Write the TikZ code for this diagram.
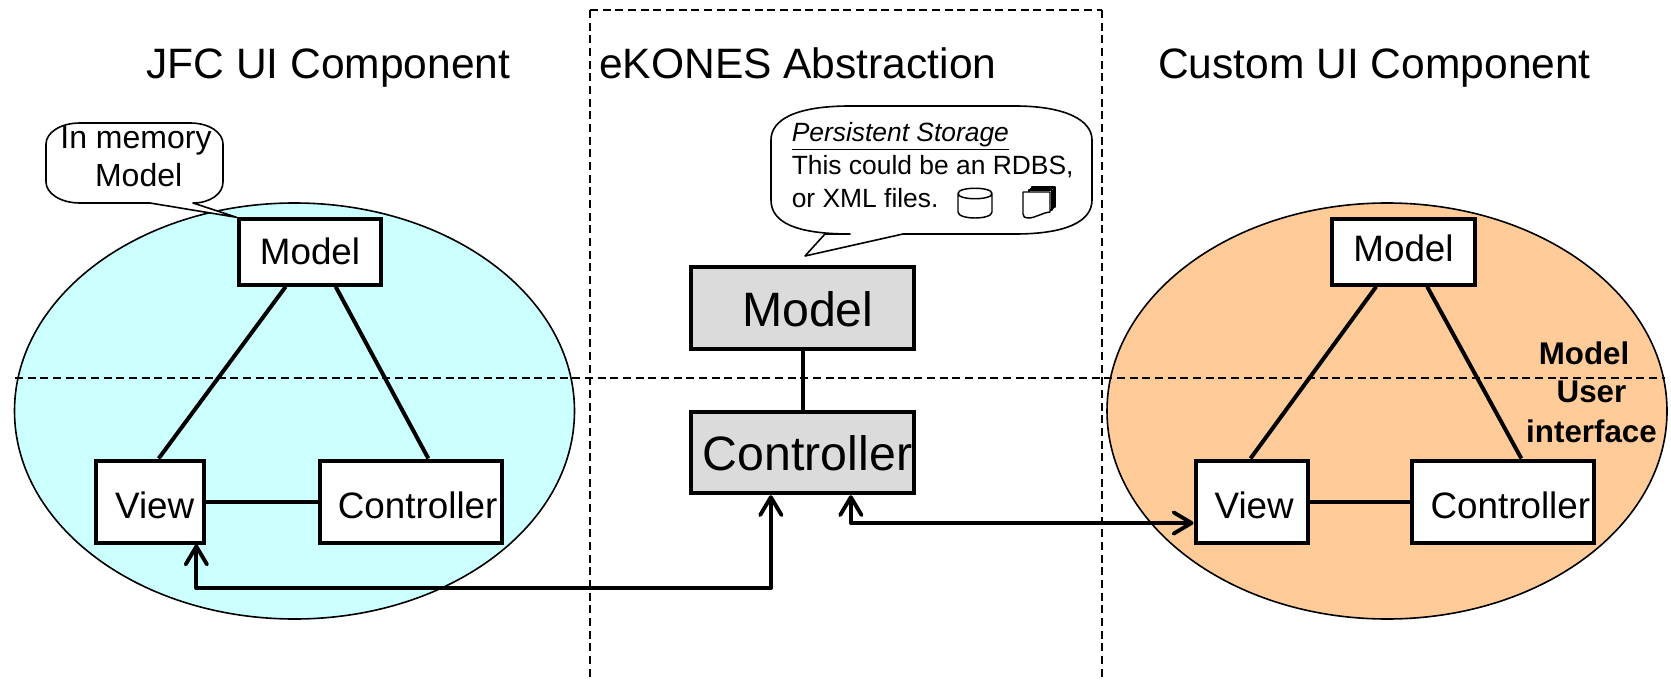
\documentclass[tikz,border=0pt]{standalone}
\usepackage{fontspec}
\setmainfont{Liberation Sans}
\usetikzlibrary{shapes.geometric,arrows.meta,calc}
\tikzset{
  oval/.style={ellipse,draw=black,line width=1.2pt,inner sep=0pt,minimum width=420pt,minimum height=312pt},
  boxbase/.style={draw=black,line width=3pt,fill=white,inner sep=0pt,align=center,text depth=0pt},
  smallbox/.style={boxbase,font=\fontsize{27.6}{32}\selectfont,minimum height=61.5pt,text height=24.8pt},
  topbox/.style={boxbase,font=\fontsize{27.6}{32}\selectfont,minimum width=107pt,minimum height=49pt},
  greybox/.style={boxbase,fill=black!14,font=\fontsize{36.2}{42}\selectfont,minimum width=167.5pt,minimum height=61pt},
  heading/.style={anchor=base west,inner sep=0pt,font=\fontsize{31.9}{38}\selectfont},
  guide/.style={line width=1.1pt,dash pattern=on 6pt off 3.5pt},
  link/.style={line width=3pt},
  twoway/.style={line width=2.9pt,line join=round,{Straight Barb[length=13.5pt,width=16pt,round]}-{Straight Barb[length=13.5pt,width=16pt,round]}},
  bubble/.style={draw=black,line width=1.2pt,fill=white,line join=round},
  icon/.style={draw=black,line width=1.1pt,fill=white,line join=round},
  bubbletext/.style={inner sep=0pt},
  sidenote/.style={inner sep=0pt,align=center,font=\fontsize{23.5}{29.5}\selectfont\bfseries}
}
\begin{document}
\begin{tikzpicture}[x=0.75pt,y=-0.75pt]
\useasboundingbox (0,0) rectangle (1671,681);
% ovals
\node[oval,fill={rgb,255:red,204;green,255;blue,255}] (jfc) at (294.5,411) {};
\node[oval,fill={rgb,255:red,255;green,204;blue,153}] (custom) at (1387,411) {};
% guides
\coordinate (gtl) at (590,10); \coordinate (gbl) at (590,681);
\coordinate (gtr) at (1102,10); \coordinate (gbr) at (1102,681);
\coordinate (gl) at (15,378); \coordinate (gr) at (1665,378);
\draw[guide] (gtl) -- (gbl);
\draw[guide] (gtr) -- (gbr);
\draw[guide] (gtl) -- (gtr);
\draw[guide] (gl) -- (gr);
% boxes
\node[topbox,text height=18pt] (lm) at (310,252) {Model};
\node[smallbox,minimum width=81.5pt] (lv) at (150,501.5) {\kern7pt View};
\node[smallbox,minimum width=136pt] (lc) at (411,501.5) {\kern10pt Controller};
\node[greybox,text height=27pt] (cm) at (802.5,308) {\kern8pt Model};
\node[greybox,text height=27.7pt] (cc) at (802.5,452.5) {\kern7.5pt Controller};
\node[topbox,text height=15pt] (rm) at (1403.5,252) {Model};
\node[smallbox,minimum width=84pt] (rv) at (1251.5,501.5) {\kern4pt View};
\node[smallbox,minimum width=136pt] (rc) at (1503,501.5) {\kern11pt Controller};
% titles
\node[heading] (t1) at (146,79) {JFC UI Component};
\node[heading] (t2) at (599,79) {eKONES Abstraction};
\node[heading] (t3) at (1158,79) {Custom UI Component};
% links
\draw[link] ($(lm.south west)+(49,0)$) -- ($(lv.north west)+(65,0)$);
\draw[link] ($(lm.south west)+(99,0)$) -- ($(lc.north west)+(110,0)$);
\draw[link] (lv.east) -- (lc.west);
\draw[link] (cm.south) -- (cc.north);
\draw[link] ($(rm.south west)+(46,0)$) -- ($(rv.north west)+(57,0)$);
\draw[link] ($(rm.south west)+(97,0)$) -- ($(rc.north west)+(111,0)$);
\draw[link] (rv.east) -- (rc.west);
% two-way connectors
\coordinate (b1) at ($(lv.south east)+(-10,43.5)$);
\coordinate (c1) at ($(cc.south west)+(82,0)$);
\draw[twoway] ($(lv.south east)+(-10,0)$) -- (b1) -- (b1 -| c1) -- (c1);
\coordinate (c2) at ($(cc.south west)+(162,0)$);
\draw[twoway] (c2) |- ($(rv.west)+(0,21.5)$);
% callouts
\draw[bubble] (80,123) -- (190,123) .. controls (210,123) and (223,133) .. (223,144)
  -- (223,182) .. controls (223,194) and (210,203) .. (193,203)
  -- (lm.north west) -- (150,203) -- (80,203)
  .. controls (60,203) and (46,193) .. (46,182) -- (46,144) .. controls (46,133) and (60,123) .. (80,123) -- cycle;
\node[bubbletext,align=center,font=\fontsize{24}{28.5}\selectfont] (note1) at (136,156.5) {In memory\\\kern4pt Model};
\draw[bubble] (850,106) -- (1015,106) .. controls (1065,106) and (1092,120) .. (1092,140)
  -- (1092,200) .. controls (1092,222) and (1065,234) .. (1015,234)
  -- (903,234) -- (805,256) -- (825,234) -- (850,234)
  .. controls (795,234) and (771,222) .. (771,200) -- (771,140)
  .. controls (771,120) and (795,106) .. (850,106) -- cycle;
\node[bubbletext,anchor=north west,align=left,font=\fontsize{19.8}{24.6}\selectfont] (note2) at (791.5,122.5) {\textit{\underline{Persistent Storage}}\\This could be an RDBS,\\or XML files.};
% cylinder icon
\draw[icon] (958,193.5) -- (958,212) .. controls (958,220) and (992,220) .. (992,212) -- (992,193.5)
  .. controls (992,186.5) and (958,186.5) .. (958,193.5) .. controls (958,200.5) and (992,200.5) .. (992,193.5);
% document stack icon
\foreach \d in {5,3.5,2}{
  \draw[icon] (1027+\d,192-\d) -- (1050+\d,192-\d) -- (1050+\d,212-\d) -- (1027+\d,212-\d) -- cycle;
}
\draw[icon] (1023,192) -- (1050,192) -- (1050,212) .. controls (1041,213) and (1036,218) .. (1028,218)
  .. controls (1025,218) and (1023,217) .. (1023,214) -- cycle;
% side notes
\node[sidenote] (nm) at (1584,353) {Model};
\node[sidenote] (nu) at (1591.5,412) {User\\interface};
\end{tikzpicture}
\end{document}
